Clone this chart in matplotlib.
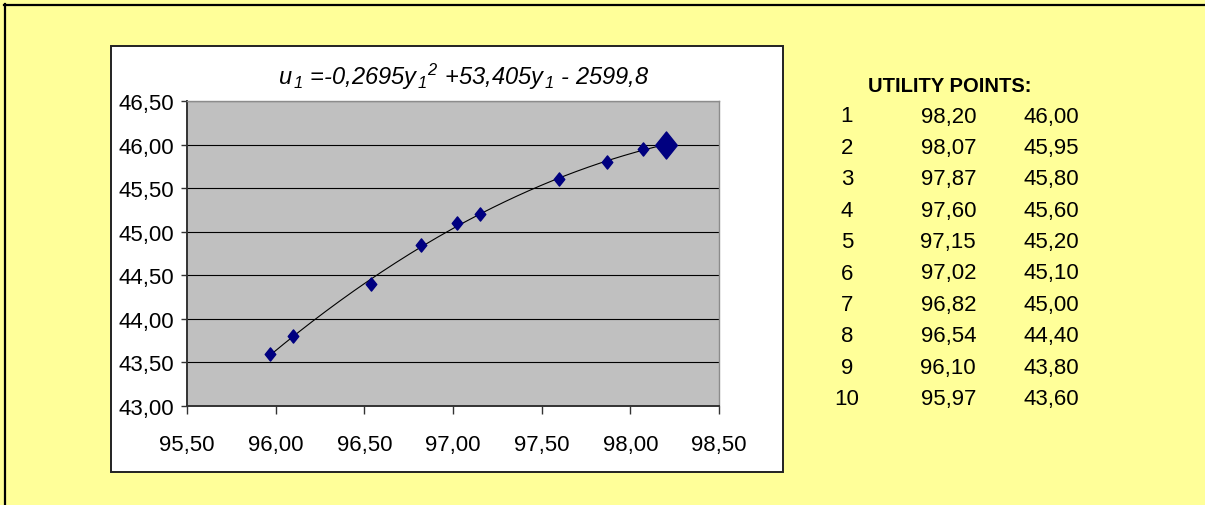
import numpy as np
import matplotlib
matplotlib.use("Agg")
import matplotlib.pyplot as plt
from matplotlib.lines import Line2D
from matplotlib.patches import Rectangle
from matplotlib.path import Path
from matplotlib.ticker import FuncFormatter

# ---- data ----
point_ids = [1, 2, 3, 4, 5, 6, 7, 8, 9, 10]
y1_values = [98.20, 98.07, 97.87, 97.60, 97.15, 97.02, 96.82, 96.54, 96.10, 95.97]
u1_values = [46.00, 45.95, 45.80, 45.60, 45.20, 45.10, 45.00, 44.40, 43.80, 43.60]
# values as plotted in the chart (point 7 is drawn at about 44.85)
u1_plotted = [46.00, 45.95, 45.80, 45.60, 45.20, 45.10, 44.85, 44.40, 43.80, 43.60]
x_ticks = [95.50, 96.00, 96.50, 97.00, 97.50, 98.00, 98.50]
y_ticks = [43.00, 43.50, 44.00, 44.50, 45.00, 45.50, 46.00, 46.50]
title_text = r"$u_{\,1}$ =-0,2695$y_{\,1}{}^{2}$ +53,405$y_{\,1}$ - 2599,8"
table_heading = "UTILITY POINTS:"

plt.rcParams['font.family'] = ['Liberation Sans', 'DejaVu Sans']
plt.rcParams['mathtext.fontset'] = 'custom'
plt.rcParams['mathtext.rm'] = 'Liberation Sans:italic'
plt.rcParams['mathtext.it'] = 'Liberation Sans:italic'
plt.rcParams['mathtext.bf'] = 'Liberation Sans:bold'

W, H = 1205, 506
fig = plt.figure(figsize=(W / 100, H / 100), dpi=100)
fig.patch.set_facecolor('#FFFF99')

def fx(px):
    return px / W

def fy(py):
    return 1 - py / H

# outer border (top and left only visible)
fig.add_artist(Line2D([fx(4), fx(W + 5)], [fy(6), fy(6)], color='black', lw=1.6,
                      transform=fig.transFigure))
fig.add_artist(Line2D([fx(5), fx(5)], [fy(5), fy(H + 5)], color='black', lw=1.6,
                      transform=fig.transFigure))

# chart box
fig.add_artist(Rectangle((fx(111), fy(473)), fx(783) - fx(111), fy(47) - fy(473),
                         transform=fig.transFigure, facecolor='white',
                         edgecolor='#222222', lw=1.4, zorder=0))

ax = fig.add_axes([fx(187), fy(407), fx(719) - fx(187), fy(102) - fy(407)])
ax.set_facecolor('#C0C0C0')
ax.set_xlim(x_ticks[0], x_ticks[-1])
ax.set_ylim(y_ticks[0], y_ticks[-1])
ax.set_xticks(x_ticks)
ax.set_yticks(y_ticks)
fmt = FuncFormatter(lambda v, p: f"{v:.2f}".replace('.', ','))
ax.xaxis.set_major_formatter(fmt)
ax.yaxis.set_major_formatter(fmt)
ax.tick_params(axis='x', direction='out', length=6, width=1, colors='#333333',
               labelcolor='black', labelsize=16, pad=14)
ax.tick_params(axis='y', direction='out', length=4.5, width=1, colors='#333333',
               labelcolor='black', labelsize=16, pad=5)
ax.yaxis.grid(True, color='black', lw=0.8)
ax.set_axisbelow(True)
for s in ['left', 'bottom']:
    ax.spines[s].set_color('#333333')
    ax.spines[s].set_linewidth(1.4)
for s in ['top', 'right']:
    ax.spines[s].set_color('#8C8C8C')
    ax.spines[s].set_linewidth(1.0)

# trendline (2nd order polynomial fit of the plotted points)
coef = np.polyfit(y1_values, u1_plotted, 2)
xs = np.linspace(min(y1_values), max(y1_values), 200)
ax.plot(xs, np.polyval(coef, xs), color='black', lw=0.8, zorder=3)

diamond = Path([(0, 1), (0.8, 0), (0, -1), (-0.8, 0), (0, 1)],
               [Path.MOVETO, Path.LINETO, Path.LINETO, Path.LINETO, Path.CLOSEPOLY])
ax.plot(y1_values[1:], u1_plotted[1:], linestyle='none', marker=diamond,
        markersize=9.5, color='#000080', zorder=4)
ax.plot(y1_values[:1], u1_plotted[:1], linestyle='none', marker=diamond,
        markersize=19.5, color='#000080', zorder=4)

# title
fig.text(fx(464), fy(77), title_text, ha='center', va='center', fontsize=17,
         fontstyle='italic', family='Liberation Sans')

# table
fig.text(fx(950), fy(86), table_heading, ha='center', va='center', fontsize=14.5,
         fontweight='bold')
row_y0, row_dy = 117, 31.4
for i, (pid, yv, uv) in enumerate(zip(point_ids, y1_values, u1_values)):
    yy = fy(row_y0 + i * row_dy)
    fig.text(fx(847), yy, str(pid), ha='center', va='center', fontsize=16)
    fig.text(fx(976), yy, f"{yv:.2f}".replace('.', ','), ha='right', va='center', fontsize=16)
    fig.text(fx(1079), yy, f"{uv:.2f}".replace('.', ','), ha='right', va='center', fontsize=16)

fig.savefig('out.png', dpi=100, facecolor=fig.get_facecolor())
